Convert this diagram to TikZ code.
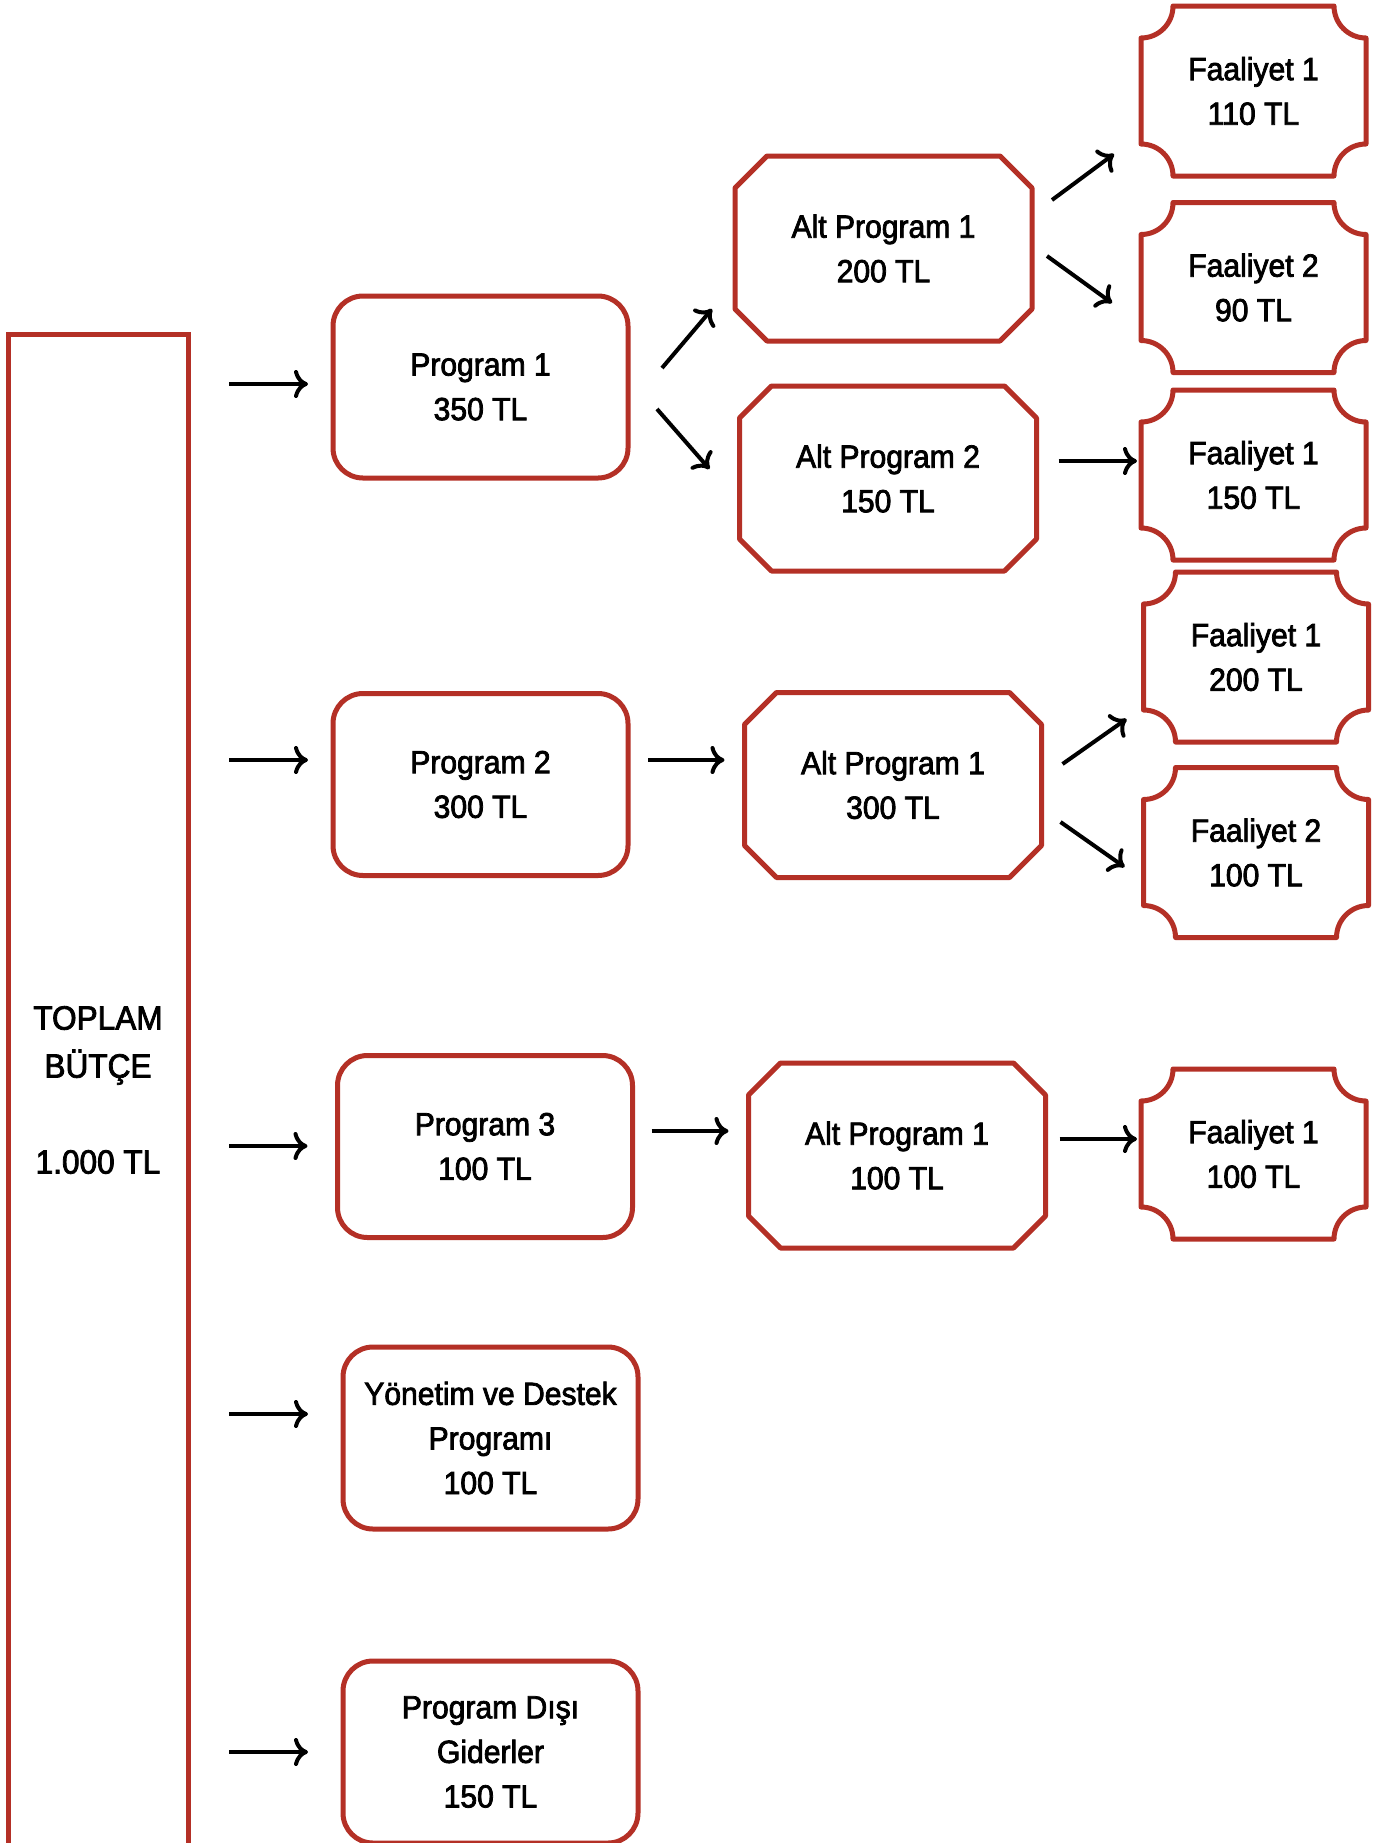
\documentclass[tikz,border=0pt]{standalone}
\usepackage{fontspec}
\setmainfont{Liberation Sans}[FakeStretch=0.94,FakeBold=2.4]
\usetikzlibrary{arrows.meta,calc}
\definecolor{boxred}{RGB}{180,48,38}
\newcommand\octbox[1]{\draw[redline] ([xshift=16pt]#1.north west) -- ([xshift=-16pt]#1.north east) -- ([yshift=-16pt]#1.north east) -- ([yshift=16pt]#1.south east) -- ([xshift=-16pt]#1.south east) -- ([xshift=16pt]#1.south west) -- ([yshift=16pt]#1.south west) -- ([yshift=-16pt]#1.north west) -- cycle;}
\newcommand\plaquebox[1]{\draw[redline] ([xshift=16pt]#1.north west) -- ([xshift=-16pt]#1.north east) arc[start angle=180,end angle=270,radius=16pt] -- ([yshift=16pt]#1.south east) arc[start angle=90,end angle=180,radius=16pt] -- ([xshift=16pt]#1.south west) arc[start angle=0,end angle=90,radius=16pt] -- ([yshift=-16pt]#1.north west) arc[start angle=270,end angle=360,radius=16pt] -- cycle;}
\begin{document}
\begin{tikzpicture}[x=0.5pt,y=-0.5pt,
  box/.style={draw=none, inner sep=0pt, outer sep=0pt, align=center, font=\fontsize{16}{22.3}\selectfont},
  rbox/.style={box, draw=boxred, line width=2.5pt, rounded corners=15pt, minimum width=147.5pt, minimum height=91pt},
  obox/.style={box, minimum width=148.5pt, minimum height=92.5pt},
  fbox/.style={box, minimum width=112.5pt, minimum height=85pt},
  redline/.style={draw=boxred, line width=2.5pt, line join=round},
  arr/.style={-{To[length=7pt,width=14pt]}, line width=2pt, black}]
\useasboundingbox (0,0) rectangle (1381,1843);
\clip (0,0) rectangle (1381,1843);
\fill[white] (0,0) rectangle (1381,1843);

% left bar
\node[box, draw=boxred, line width=2.5pt, minimum width=90pt, minimum height=756pt, font=\fontsize{16.8}{24}\selectfont] (bar) at (98,1090) {TOPLAM\\BÜTÇE\\[24pt]1.000 TL};

% programs
\node[rbox] (p1) at (480.5,387) {Program 1\\350 TL};
\node[rbox] (p2) at (480.5,784.5) {Program 2\\300 TL};
\node[rbox] (p3) at (485,1146.5) {Program 3\\100 TL};
\node[rbox] (yd) at (490.5,1438) {Yönetim ve Destek\\Programı\\100 TL};
\node[rbox] (pd) at (490.5,1752) {Program Dışı\\Giderler\\150 TL};

% alt programs
\node[obox] (ap1) at (883.5,248.5) {Alt Program 1\\200 TL};
\node[obox] (ap2) at (888,478.5) {Alt Program 2\\150 TL};
\node[obox] (ap3) at (893,785) {Alt Program 1\\300 TL};
\node[obox] (ap4) at (897,1155.5) {Alt Program 1\\100 TL};
\octbox{ap1}\octbox{ap2}\octbox{ap3}\octbox{ap4}

% faaliyet
\node[fbox] (fa) at (1253.5,91) {Faaliyet 1\\110 TL};
\node[fbox] (fb) at (1253.5,287.5) {Faaliyet 2\\90 TL};
\node[fbox] (fc) at (1253.5,475) {Faaliyet 1\\150 TL};
\node[fbox] (fd) at (1256,657) {Faaliyet 1\\200 TL};
\node[fbox] (fe) at (1256,852.5) {Faaliyet 2\\100 TL};
\node[fbox] (ff) at (1253.5,1154) {Faaliyet 1\\100 TL};
\plaquebox{fa}\plaquebox{fb}\plaquebox{fc}\plaquebox{fd}\plaquebox{fe}\plaquebox{ff}

% bar arrows
\coordinate (e1) at ([shift={(-25,-3)}]p1.west);
\coordinate (e2) at ([shift={(-25,-24.5)}]p2.west);
\coordinate (e3) at ([shift={(-30,-0.5)}]p3.west);
\coordinate (e4) at ([shift={(-35,-24)}]yd.west);
\coordinate (e5) at ([shift={(-35,0)}]pd.west);
\foreach \e in {e1,e2,e3,e4,e5}
  \draw[arr, shorten <=20.5pt] (bar.east |- \e) -- (\e);

% program -> alt program
\coordinate (s6) at ([shift={(34,-19)}]p1.east);
\coordinate (e6) at ([shift={(-23,-32)}]ap1.south west);
\draw[arr] (s6) -- (e6);
\coordinate (s7) at ([shift={(29,22)}]p1.east);
\coordinate (e7) at ([shift={(-30,-9.5)}]ap2.west);
\draw[arr] (s7) -- (e7);
\coordinate (s8) at ([shift={(20,-24.5)}]p2.east);
\coordinate (e8) at ([shift={(-20,-25)}]ap3.west);
\draw[arr] (s8) -- (e8);
\coordinate (s9) at ([shift={(19,-15.5)}]p3.east);
\coordinate (e9) at ([shift={(-20,-24.5)}]ap4.west);
\draw[arr] (s9) -- (e9);

% alt program -> faaliyet
\coordinate (s10) at ([shift={(20,-48.5)}]ap1.east);
\coordinate (e10) at ([shift={(-27,63)}]fa.west);
\draw[arr] (s10) -- (e10);
\coordinate (s11) at ([shift={(15,7.5)}]ap1.east);
\coordinate (e11) at ([shift={(-29,15.5)}]fb.west);
\draw[arr] (s11) -- (e11);
\coordinate (s12) at ([shift={(22,-17.5)}]ap2.east);
\coordinate (e12) at ([shift={(-4,-14)}]fc.west);
\draw[arr] (s12) -- (e12);
\coordinate (s13) at ([shift={(21,-21)}]ap3.east);
\coordinate (e13) at ([shift={(-17,62)}]fd.west);
\draw[arr] (s13) -- (e13);
\coordinate (s14) at ([shift={(19,37)}]ap3.east);
\coordinate (e14) at ([shift={(-19,14.5)}]fe.west);
\draw[arr] (s14) -- (e14);
\coordinate (s15) at ([shift={(14,-16.5)}]ap4.east);
\coordinate (e15) at ([shift={(-4,-15)}]ff.west);
\draw[arr] (s15) -- (e15);
\end{tikzpicture}
\end{document}
